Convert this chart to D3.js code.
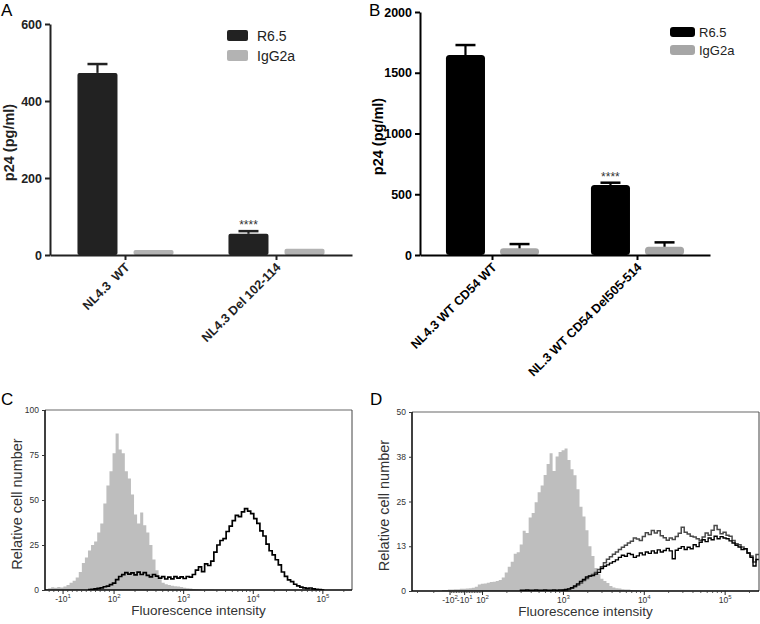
<!DOCTYPE html>
<html><head><meta charset="utf-8">
<script src="https://cdn.jsdelivr.net/npm/d3@7"></script>
<style>
body{margin:0;background:#fff}
svg{display:block}
text{font-family:Arial,"Liberation Sans",sans-serif}
</style>
</head><body>
<svg id="chart" width="760" height="624"></svg>
<script>
// ---------------- DATA ----------------
const seriesAB = ["R6.5", "IgG2a"];

// Panel A
const catsA = ["NL4.3  WT", "NL4.3 Del 102-114"];
const valsA_R65 = [473, 55];
const errA_R65 = [23, 7];
const valsA_IgG = [13, 16];
const errA_IgG = [0, 0];
const ticksA = [0, 200, 400, 600];
const sigA = ["", "****"];

// Panel B
const catsB = ["NL4.3 WT CD54 WT", "NL.3 WT CD54 Del505-514"];
const valsB_R65 = [1646, 576];
const errB_R65 = [82, 19];
const valsB_IgG = [55, 68];
const errB_IgG = [35, 36];
const ticksB = [0, 500, 1000, 1500, 2000];
const sigB = ["", "****"];

// Panel C (flow histogram, counts per display bin)
const C_yTicks = [0, 25, 50, 75, 100];
const C_yLabels = ["0", "25", "50", "75", "100"];
const C_xTicks = [-10, 100, 1000, 10000, 100000];
const C_xBase = ["-10", "10", "10", "10", "10"];
const C_xExp = ["1", "2", "3", "4", "5"];
const C_grayStart = 0;
const C_gray = [0.5,1,1.5,1.2,1.6,1.4,2,2.8,4,5.2,7,10,15,18,22,25,27,32,37,48,58,66,76,87,78,76,66,62,53,42,37,43,36,32,25,17,11,6,4,3.2,2.8,2.4,2.1,1.9,1.6,1.2,1,0.8,0.6,0.4,0.3,0.2,0.2,0.1,0.1,0];
const C_blackStart = 14;
const C_black = [0.2,0.3,0.6,0.9,1.2,1.8,2.2,3,3.8,5.8,7.5,8.5,9.6,8.8,9.5,8.4,9.9,8.6,9.6,8.1,7.3,8.6,7.7,6.6,7.4,6.1,7.1,6.2,7.4,6.6,7.3,6.4,7.5,7.2,8.6,11,12.8,10.2,14.5,13.6,16,21,25,27.5,28.5,32.5,35.5,38.5,41.5,40.8,43.4,45.2,43.8,42.4,39.6,37,32.8,30,25.5,21.8,19.5,16.8,14,10,7.6,5.6,4.6,3.2,2.3,1.6,1.2,0.9,1.1,0.6,0.3,0.2,0];

// Panel D
const D_yTicks = [0, 12.5, 25, 37.5, 50];
const D_yLabels = ["0", "13", "25", "38", "50"];
const D_xTicks = [-100, -10, 100, 1000, 10000, 100000];
const D_xBase = ["-10", "-10", "10", "10", "10", "10"];
const D_xExp = ["2", "1", "2", "3", "4", "5"];
const D_grayStart = 10;
const D_gray = [0.3,0.3,0.4,0.4,0.5,0.5,0.6,0.6,0.7,0.8,0.9,1.2,1.8,2,2.1,2.3,2.5,2.6,2.8,3.1,3.8,5.2,6.8,8.2,10.4,10.8,13,16.8,16.2,20.5,21.8,24.8,27.6,29.5,32.4,35.5,38.5,33.5,37.6,38.8,39.3,39.8,36.6,34,32.3,28.4,23.5,20.8,17,12.5,9.8,6.4,4.8,3.4,2.8,2.2,1.4,1,0.8,0.7,0.5,0.4,0.4,0.3,0.2,0.2,0.1,0];
const D_blackStart = 36;
const D_black = [0.2,0.2,0.3,0.2,0.2,0.3,0.2,0.2,0.3,0.2,0.2,0.3,0.2,0.3,0.3,0.4,0.6,0.9,1.4,2,2.7,3.2,3.9,4.2,4.3,4.7,5.2,6.3,6.9,7.3,7.8,8.2,8.7,9.4,10,9.7,10.5,10.2,9.4,9.8,10.6,10.1,10.9,10.5,11.2,10.6,11.5,10.9,11.3,11.9,11.2,9,11.4,11.9,12.4,11.6,12.2,11.8,12.9,12.4,13.6,14.3,13.8,14.8,14.3,15.3,14.6,15.2,14.8,14.6,14,13.4,12.8,12.3,11.6,11.8,10.6,9.4,7,8.8];
const D_darkStart = 50;
const D_dark = [0.2,0.3,0.5,0.8,1.2,1.7,2.2,2.9,3.5,4.1,4.6,5.2,6,6.8,7.9,8.9,9.6,10.3,10.9,11.6,12.2,12.8,13.4,13.9,14.8,14.5,14.1,15.2,16.3,15.8,16.9,16.2,16.8,15.4,14.9,14.2,14.8,14.4,15.2,16.1,17.8,16.4,15.9,15.3,15.1,14.6,14.2,15.1,16.2,15.6,17,18.3,17.2,16,16.4,15.6,15.3,14.1,13.2,12.9,12.3,11.8,10.6,9.8,8.1,10.2];

// ---------------- DRAW ----------------
const svg = d3.select("#chart");
const FONT = "Arial, 'Liberation Sans', sans-serif";

function barPanel(o) {
  const g = svg.append("g");
  const x0 = d3.scaleBand().domain(o.cats).range([o.left, o.right]);
  const x1 = d3.scaleBand().domain(seriesAB).range([0, x0.bandwidth()])
    .paddingInner(o.pi).paddingOuter(o.po);
  const y = d3.scaleLinear().domain([0, o.max]).range([o.bottom, o.top]);
  const color = d3.scaleOrdinal().domain(seriesAB).range(o.colors);
  const rows = o.cats.map((c, i) => ({
    cat: c, sig: o.sig[i],
    bars: [{s: "R6.5", v: o.r[i], e: o.re[i]}, {s: "IgG2a", v: o.ig[i], e: o.ie[i]}]
  }));
  const bw = x1.bandwidth();
  const grp = g.selectAll("g.grp").data(rows).join("g").attr("class", "grp")
    .attr("transform", d => `translate(${x0(d.cat)},0)`);
  grp.selectAll("rect").data(d => d.bars).join("rect")
    .attr("x", d => x1(d.s)).attr("width", bw)
    .attr("y", d => y(d.v)).attr("height", d => y(0) - y(d.v))
    .attr("rx", o.rx).attr("fill", d => color(d.s));
  const eb = grp.selectAll("g.err").data(d => d.bars.filter(b => b.e > 0)).join("g").attr("class", "err");
  eb.append("line")
    .attr("x1", d => x1(d.s) + bw / 2).attr("x2", d => x1(d.s) + bw / 2)
    .attr("y1", d => y(d.v)).attr("y2", d => y(d.v + d.e))
    .attr("stroke", o.errColor).attr("stroke-width", 2.2);
  eb.append("line")
    .attr("x1", d => x1(d.s) + bw / 2 - o.cap / 2).attr("x2", d => x1(d.s) + bw / 2 + o.cap / 2)
    .attr("y1", d => y(d.v + d.e)).attr("y2", d => y(d.v + d.e))
    .attr("stroke", o.errColor).attr("stroke-width", 2.5);
  grp.append("text").text(d => d.sig)
    .attr("x", x1("R6.5") + bw / 2)
    .attr("y", d => y(d.bars[0].v + d.bars[0].e) - 2)
    .attr("text-anchor", "middle").attr("font-size", 12).attr("fill", "#333");

  const ya = g.append("g").attr("transform", `translate(${o.left},0)`)
    .call(d3.axisLeft(y).tickValues(o.ticks).tickFormat(d3.format("d")).tickSize(5).tickSizeOuter(0).tickPadding(3));
  ya.attr("font-family", FONT).attr("font-size", 12.5).attr("font-weight", "bold");
  ya.select(".domain").attr("stroke", o.axisColor).attr("stroke-width", 2);
  ya.selectAll(".tick line").attr("stroke", o.axisColor).attr("stroke-width", 2);
  ya.selectAll(".tick text").attr("fill", o.axisColor);

  const xa = g.append("g").attr("transform", `translate(0,${o.bottom})`)
    .call(d3.axisBottom(x0).tickSize(5).tickSizeOuter(0));
  xa.attr("font-family", FONT).attr("font-size", 12.5).attr("font-weight", "bold");
  xa.select(".domain").attr("stroke", o.axisColor).attr("stroke-width", 2);
  xa.selectAll(".tick line").attr("stroke", o.axisColor).attr("stroke-width", 2);
  xa.selectAll(".tick text").attr("y", 0).attr("dy", 0)
    .attr("transform", "translate(5,13) rotate(-45)")
    .attr("text-anchor", "end").style("white-space", "pre").attr("fill", o.axisColor);

  g.append("text").attr("transform", `translate(${o.ylabX},${(o.top + o.bottom) / 2 + 3}) rotate(-90)`)
    .attr("text-anchor", "middle").attr("font-size", 14.5).attr("font-weight", "bold")
    .attr("fill", o.axisColor).text("p24 (pg/ml)");

  const lg = g.append("g");
  seriesAB.forEach((s, i) => {
    lg.append("rect").attr("x", o.legX).attr("y", o.legY + i * o.legDy)
      .attr("width", o.legW).attr("height", o.legH).attr("rx", o.legRx).attr("fill", color(s));
    lg.append("text").attr("x", o.legX + o.legW + o.legGap).attr("y", o.legY + i * o.legDy + o.legH)
      .attr("font-size", o.legFont).attr("fill", "#222").text(s);
  });

  g.append("text").attr("x", o.labX).attr("y", 16).attr("font-size", 17).text(o.label);
}

barPanel({
  label: "A", labX: 1, cats: catsA, r: valsA_R65, re: errA_R65, ig: valsA_IgG, ie: errA_IgG, sig: sigA,
  ticks: ticksA, max: 600, left: 50, right: 352, top: 24, bottom: 255,
  pi: 0.286, po: 0.49, colors: ["#222222", "#b3b3b3"], rx: 2, cap: 20, errColor: "#222",
  axisColor: "#222", ylabX: 14,
  legX: 227, legY: 30, legDy: 20, legW: 21, legH: 11, legRx: 2, legGap: 9, legFont: 14
});
barPanel({
  label: "B", labX: 369, cats: catsB, r: valsB_R65, re: errB_R65, ig: valsB_IgG, ie: errB_IgG, sig: sigB,
  ticks: ticksB, max: 2000, left: 420, right: 710, top: 12, bottom: 255,
  pi: 0.278, po: 0.48, colors: ["#000000", "#a6a6a6"], rx: 3.5, cap: 20, errColor: "#000",
  axisColor: "#000", ylabX: 383,
  legX: 670, legY: 27, legDy: 18, legW: 25, legH: 10, legRx: 3, legGap: 4, legFont: 13
});

function flowPanel(o) {
  const g = svg.append("g");
  const bex = v => v >= o.T ? Math.log10(v) : Math.log10(o.T) - (o.T - v) * o.g;
  const x = d3.scaleLinear().domain([bex(o.xmin), bex(o.xmax)]).range([o.left, o.right]);
  const X = v => x(bex(v));
  const y = d3.scaleLinear().domain([0, o.ymax]).range([o.bottom, o.top]);
  const binU = d3.scaleLinear().domain([0, o.N]).range(x.domain());

  const cid = "clip" + o.label;
  svg.append("clipPath").attr("id", cid).append("rect")
    .attr("x", o.left).attr("y", o.top).attr("width", o.right - o.left).attr("height", o.bottom - o.top);
  const plot = g.append("g").attr("clip-path", `url(#${cid})`);

  const pts = (start, arr) => {
    const p = arr.map((c, k) => ({i: start + k, c}));
    p.push({i: start + arr.length, c: arr[arr.length - 1]});
    return p;
  };
  const area = d3.area().x(d => x(binU(d.i))).y0(y(0)).y1(d => y(d.c)).curve(d3.curveStepAfter);
  const line = d3.line().x(d => x(binU(d.i))).y(d => y(d.c)).curve(d3.curveStepAfter);
  plot.append("path").attr("d", area(pts(o.grayStart, o.gray))).attr("fill", "#bebebe");
  o.lines.forEach(l => {
    plot.append("path").attr("d", line(pts(l.start, l.data))).attr("fill", "none")
      .attr("stroke", l.color).attr("stroke-width", l.w).attr("stroke-linejoin", "miter");
  });

  // frame
  g.append("line").attr("x1", o.left).attr("x2", o.right).attr("y1", o.top).attr("y2", o.top)
    .attr("stroke", "#9a9a9a").attr("stroke-width", 1.3);
  g.append("line").attr("x1", o.right).attr("x2", o.right).attr("y1", o.top).attr("y2", o.bottom)
    .attr("stroke", "#444").attr("stroke-width", 1);
  g.append("line").attr("x1", o.left).attr("x2", o.left).attr("y1", o.top).attr("y2", o.bottom)
    .attr("stroke", "#000").attr("stroke-width", 1.5);
  g.append("line").attr("x1", o.left).attr("x2", o.right).attr("y1", o.bottom).attr("y2", o.bottom)
    .attr("stroke", "#000").attr("stroke-width", 1.5);

  // y axis ticks
  const ya = g.append("g").attr("transform", `translate(${o.left},0)`)
    .call(d3.axisLeft(y).tickValues(o.yTicks).tickFormat((d, i) => o.yLabels[i]).tickSize(3).tickSizeOuter(0).tickPadding(3));
  ya.attr("font-family", FONT).attr("font-size", 8.5);
  ya.select(".domain").remove();
  ya.selectAll(".tick text").attr("fill", "#333");
  ya.selectAll(".tick line").attr("stroke", "#333");

  // x minor ticks
  const minors = [];
  o.linMinor.forEach(v => minors.push(v));
  [2, 3, 4, 5].forEach(k => d3.range(2, 10).forEach(m => { const v = m * Math.pow(10, k); if (v < o.xmax) minors.push(v); }));
  g.selectAll("line.minor").data(minors).join("line").attr("class", "minor")
    .attr("x1", d => X(d)).attr("x2", d => X(d)).attr("y1", o.bottom).attr("y2", o.bottom + 2)
    .attr("stroke", "#333").attr("stroke-width", 0.8);
  g.selectAll("line.major").data(o.xTicks).join("line").attr("class", "major")
    .attr("x1", d => X(d)).attr("x2", d => X(d)).attr("y1", o.bottom).attr("y2", o.bottom + 4)
    .attr("stroke", "#222").attr("stroke-width", 1);
  o.xTicks.forEach((v, i) => {
    const t = g.append("text").attr("x", X(v)).attr("y", o.bottom + 12)
      .attr("text-anchor", "middle").attr("font-size", 8.5).attr("fill", "#333");
    t.append("tspan").text(o.xBase[i]);
    t.append("tspan").text(o.xExp[i]).attr("dy", -4).attr("font-size", 6);
  });

  g.append("text").attr("x", (o.left + o.right) / 2).attr("y", o.bottom + 25)
    .attr("text-anchor", "middle").attr("font-size", 13.5).attr("fill", "#333").text("Fluorescence intensity");
  g.append("text").attr("transform", `translate(${o.ylabX},${(o.top + o.bottom) / 2 + 4}) rotate(-90)`)
    .attr("text-anchor", "middle").attr("font-size", 14.5).attr("fill", "#333").text("Relative cell number");
  g.append("text").attr("x", o.labX).attr("y", o.labY).attr("font-size", 17).text(o.label);
}

flowPanel({
  label: "C", labX: 1, labY: 405, left: 45, right: 352, top: 410, bottom: 590,
  T: 100, g: 0.00666, xmin: -49, xmax: 262144, ymax: 100, N: 100,
  yTicks: C_yTicks, yLabels: C_yLabels, xTicks: C_xTicks, xBase: C_xBase, xExp: C_xExp,
  linMinor: [-40, -30, -20, 0, 10, 20, 30, 40, 50, 60, 70, 80, 90],
  grayStart: C_grayStart, gray: C_gray,
  lines: [{start: C_blackStart, data: C_black, color: "#000", w: 1.7}],
  ylabX: 22
});
flowPanel({
  label: "D", labX: 370, labY: 405, left: 412, right: 759, top: 412, bottom: 591,
  T: 100, g: 0.00201, xmin: -334, xmax: 262144, ymax: 50, N: 116,
  yTicks: D_yTicks, yLabels: D_yLabels, xTicks: D_xTicks, xBase: D_xBase, xExp: D_xExp,
  linMinor: [-300, -200, -90, -80, -70, -60, -50, -40, -30, -20, 0, 10, 20, 30, 40, 50, 60, 70, 80, 90],
  grayStart: D_grayStart, gray: D_gray,
  lines: [{start: D_darkStart, data: D_dark, color: "#4a4a4a", w: 1.5},
          {start: D_blackStart, data: D_black, color: "#000", w: 1.4}],
  ylabX: 389
});
</script>
</body></html>
